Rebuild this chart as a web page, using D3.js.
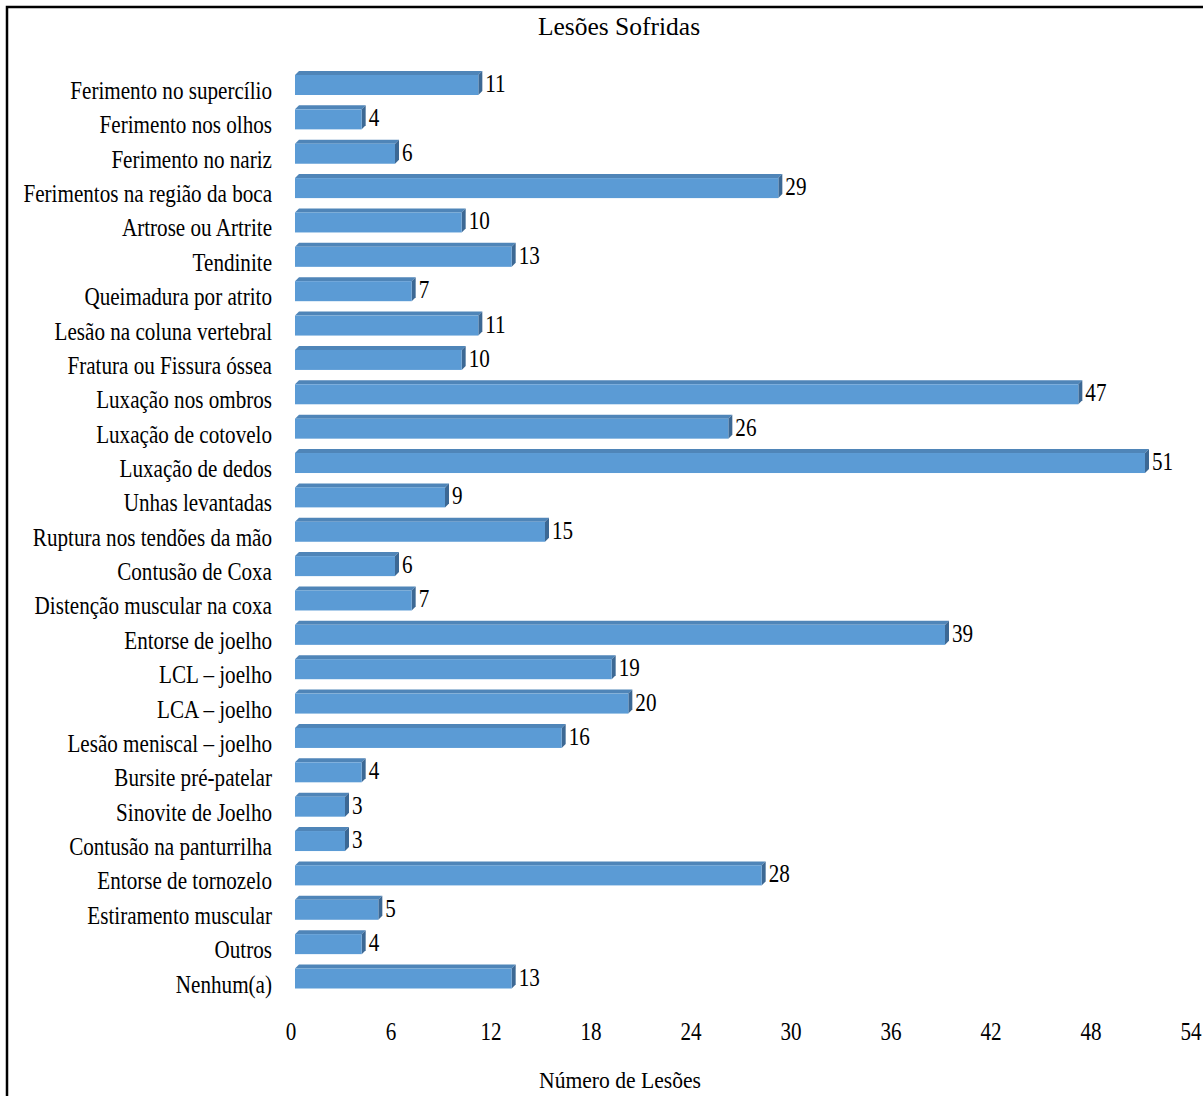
<!DOCTYPE html>
<html>
<head>
	<title>Lesões Sofridas</title>
	<style>
		html, body { margin: 0; background: white; }
		svg { display: block; }
		text { font-family: "Liberation Serif", "Times New Roman", serif; fill: #000; }
	</style>
	<script src="https://cdn.jsdelivr.net/npm/d3@7"></script>
</head>
<body>
	<svg id="svg" width="1203" height="1096"></svg>
	<script>
		const categories = [
			'Ferimento no supercílio', 'Ferimento nos olhos', 'Ferimento no nariz',
			'Ferimentos na região da boca', 'Artrose ou Artrite', 'Tendinite',
			'Queimadura por atrito', 'Lesão na coluna vertebral', 'Fratura ou Fissura óssea',
			'Luxação nos ombros', 'Luxação de cotovelo', 'Luxação de dedos',
			'Unhas levantadas', 'Ruptura nos tendões da mão', 'Contusão de Coxa',
			'Distenção muscular na coxa', 'Entorse de joelho', 'LCL – joelho',
			'LCA – joelho', 'Lesão meniscal – joelho', 'Bursite pré-patelar',
			'Sinovite de Joelho', 'Contusão na panturrilha', 'Entorse de tornozelo',
			'Estiramento muscular', 'Outros', 'Nenhum(a)'
		];
		const values = [11, 4, 6, 29, 10, 13, 7, 11, 10, 47, 26, 51, 9, 15, 6, 7, 39, 19, 20, 16, 4, 3, 3, 28, 5, 4, 13];
		const xTicks = [0, 6, 12, 18, 24, 30, 36, 42, 48, 54];
		const TITLE = 'Lesões Sofridas';
		const X_TITLE = 'Número de Lesões';

		const FRONT = '#5b9bd5', TOP = '#4f85b8', SIDE = '#3c6894';
		const depth = 4, barH = 20, fs = 25, sx = 0.845;

		const svg = d3.select('#svg');

		// frame (right and bottom edges run off the picture)
		svg.append('rect')
			.attr('x', 7).attr('y', 7)
			.attr('width', 1220).attr('height', 1120)
			.attr('fill', 'none').attr('stroke', '#000').attr('stroke-width', 2.5);

		const x = d3.scaleLinear().domain([0, 54]).range([295, 1195]);
		const y = d3.scalePoint().domain(categories).range([85, 978.5]);

		// squeezed serif text like the original
		function label(g, tx, ty, str, size, anchor, scale) {
			return g.append('text')
				.attr('transform', `translate(${tx},${ty}) scale(${scale},1)`)
				.attr('text-anchor', anchor)
				.style('font-size', size + 'px')
				.text(str);
		}

		label(svg, 619, 35, TITLE, 25, 'middle', 1.02);
		label(svg, 620, 1088, X_TITLE, 24, 'middle', 0.9);

		const rows = svg.append('g').selectAll('g')
			.data(categories.map((c, i) => ({ c, v: values[i] })))
			.join('g');

		rows.each(function (d) {
			const g = d3.select(this);
			const c = y(d.c), x0 = x(0), x1 = x(d.v);
			const t = c - barH / 2, b = c + barH / 2;
			g.append('path')
				.attr('d', `M${x0},${t}L${x0 + depth},${t - depth}L${x1 + depth},${t - depth}L${x1},${t}Z`)
				.attr('fill', TOP);
			g.append('path')
				.attr('d', `M${x1},${t}L${x1 + depth},${t - depth}L${x1 + depth},${b - depth}L${x1},${b}Z`)
				.attr('fill', SIDE);
			g.append('rect')
				.attr('x', x0).attr('y', t)
				.attr('width', x1 - x0).attr('height', barH)
				.attr('fill', FRONT);
			label(g, 272, c + 14, d.c, fs, 'end', sx);
			label(g, x1 + depth + 3, c + 7, d.v, fs, 'start', sx);
		});

		const ticks = svg.append('g');
		xTicks.forEach(v => label(ticks, x(v) - 4, 1040, v, fs, 'middle', sx));
	</script>
</body>
</html>
